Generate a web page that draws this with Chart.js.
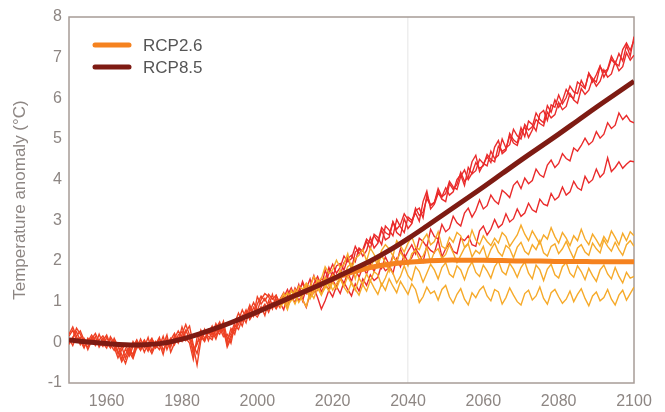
<!DOCTYPE html>
<html lang="en">
<head>
<meta charset="utf-8">
<title>Temperature anomaly RCP2.6 / RCP8.5</title>
<script src="https://cdn.jsdelivr.net/npm/chart.js@4.4.1/dist/chart.umd.min.js"></script>
<style>
    html, body { margin: 0; padding: 0; background: #ffffff; }
    #container { width: 665px; height: 412px; position: relative; }
</style>
</head>
<body>
<div id="container"><canvas id="tempChart" width="665" height="412"></canvas></div>
<script>
// x axis: years, runs are annual from 1950, scenario runs from 2006
const runStartYear = 1950;
const scenarioStartYear = 2006;
const xTickValues = [1960, 1980, 2000, 2020, 2040, 2060, 2080, 2100];
const yTickValues = [-1, 0, 1, 2, 3, 4, 5, 6, 7, 8];

// RCP8.5 single runs, 1950..2100 (one value per year)
const rcp85RunA = [
    0.15, 0.30, 0.05, 0.12, -0.10, 0.02, 0.18, 0.04, -0.08, 0.10,
    -0.05, 0.08, -0.12, -0.38, -0.18, -0.05, -0.28, 0.02, -0.15, 0.08,
    -0.12, 0.12, -0.22, 0.02, -0.10, 0.15, -0.18, 0.06, 0.22, 0.02,
    0.38, 0.10, -0.02, -0.42, 0.12, 0.18, 0.05, 0.32, 0.18, 0.46,
    0.28, 0.52, 0.08, 0.22, 0.48, 0.72, 0.52, 0.66, 0.92, 0.68,
    1.12, 0.94, 1.08, 0.88, 1.18, 0.86, 1.06, 1.22, 0.96, 1.28,
    1.14, 1.42, 1.02, 1.32, 1.56, 1.22, 1.48, 1.36, 1.78, 1.52,
    1.72, 1.58, 1.64, 1.96, 2.08, 1.80, 2.22, 2.30, 2.12, 2.26,
    2.58, 2.32, 2.44, 2.76, 2.52, 2.58, 2.96, 2.70, 2.62, 3.04,
    2.80, 2.92, 3.24, 3.30, 3.06, 3.62, 3.38, 3.44, 3.70, 3.52,
    3.46, 3.90, 3.76, 3.88, 4.18, 3.96, 4.06, 4.44, 4.60, 4.20,
    4.38, 4.56, 4.42, 4.80, 4.96, 4.64, 4.72, 5.14, 4.98, 4.90,
    5.28, 5.06, 5.44, 5.36, 5.20, 5.62, 5.70, 5.46, 5.84, 5.78,
    6.08, 5.86, 6.02, 6.30, 6.16, 6.12, 6.44, 6.26, 6.62, 6.40,
    6.58, 6.80, 6.52, 6.70, 6.96, 6.84, 7.10, 6.92, 7.30, 7.04,
    7.52
];
const rcp85RunB = [
    0.05, 0.10, 0.35, 0.20, 0.00, -0.12, 0.08, 0.22, 0.02, -0.10,
    0.12, -0.08, 0.04, -0.22, -0.48, -0.30, -0.12, -0.36, -0.05, -0.20,
    0.04, -0.15, 0.08, -0.05, 0.12, -0.20, 0.02, -0.08, 0.10, 0.28,
    0.12, 0.30, 0.08, -0.20, -0.05, 0.30, 0.10, 0.22, 0.40, 0.16,
    0.44, 0.34, -0.12, 0.10, 0.38, 0.54, 0.80, 0.60, 0.76, 0.98,
    0.78, 1.05, 1.20, 1.12, 0.92, 1.06, 0.84, 1.10, 1.30, 1.06,
    1.34, 1.18, 1.50, 1.26, 1.12, 1.44, 1.62, 1.38, 1.54, 1.84,
    1.60, 1.88, 1.94, 1.78, 2.06, 2.14, 1.98, 2.32, 2.24, 2.48,
    2.30, 2.66, 2.58, 2.40, 2.86, 2.76, 2.62, 3.02, 2.84, 2.70,
    3.08, 3.00, 3.18, 2.98, 3.46, 3.72, 3.28, 3.40, 3.66, 3.58,
    3.80, 3.62, 3.70, 4.00, 4.12, 3.86, 4.30, 4.14, 4.22, 4.50,
    4.40, 4.34, 4.70, 4.52, 4.60, 5.00, 4.78, 4.86, 5.24, 5.08,
    5.00, 5.36, 5.22, 5.30, 5.64, 5.48, 5.40, 5.82, 5.66, 5.96,
    5.78, 5.94, 6.22, 6.06, 6.00, 6.40, 6.32, 6.24, 6.62, 6.48,
    6.40, 6.78, 6.64, 6.72, 7.04, 6.86, 6.80, 7.20, 7.36, 7.18,
    7.42
];
const rcp85RunC = [
    0.20, 0.38, 0.14, -0.06, 0.10, -0.04, 0.12, -0.08, 0.06, 0.16,
    0.00, -0.14, 0.10, -0.10, -0.30, -0.52, -0.24, -0.40, -0.12, 0.00,
    -0.24, -0.04, 0.10, -0.14, -0.02, -0.30, 0.08, -0.12, 0.16, -0.02,
    0.20, 0.44, 0.18, -0.10, -0.56, 0.04, 0.26, 0.14, 0.06, 0.34,
    0.50, 0.22, 0.02, 0.34, 0.20, 0.58, 0.40, 0.74, 0.62, 0.86,
    0.70, 0.88, 0.66, 1.02, 0.82, 1.14, 0.98, 0.80, 1.16, 1.34,
    1.10, 1.28, 1.46, 1.20, 1.38, 1.64, 1.30, 1.58, 1.44, 1.70,
    1.92, 1.70, 1.84, 2.12, 1.98, 2.06, 2.36, 2.18, 2.28, 2.54,
    2.44, 2.62, 2.48, 2.82, 2.70, 2.64, 2.96, 2.78, 2.90, 3.16,
    3.02, 2.94, 3.30, 3.12, 3.20, 3.54, 3.36, 3.44, 3.78, 3.58,
    3.66, 3.96, 3.82, 3.76, 4.08, 4.24, 4.00, 4.16, 4.42, 4.28,
    4.34, 4.62, 4.50, 4.44, 4.82, 4.70, 4.76, 5.08, 4.90, 4.84,
    5.16, 5.30, 5.04, 5.22, 5.48, 5.38, 5.32, 5.66, 5.52, 5.60,
    5.90, 5.72, 5.80, 6.12, 5.96, 5.88, 6.24, 6.10, 6.20, 6.48,
    6.30, 6.42, 6.70, 6.52, 6.60, 6.90, 6.68, 6.78, 7.12, 6.94,
    7.06
];
const rcp85RunD = [
    -0.05, 0.12, 0.26, 0.04, -0.14, 0.10, -0.02, 0.14, -0.12, 0.04,
    0.18, -0.06, -0.20, -0.04, -0.42, -0.16, -0.34, -0.10, 0.06, -0.18,
    -0.04, -0.22, 0.06, -0.12, 0.08, -0.06, 0.18, -0.24, -0.02, 0.12,
    0.02, 0.26, 0.40, -0.06, -0.28, 0.14, 0.02, 0.26, 0.12, 0.30,
    0.20, 0.42, -0.06, 0.16, 0.30, 0.44, 0.66, 0.48, 0.84, 0.64,
    0.94, 1.14, 1.02, 1.18, 1.06, 1.16, 0.92, 1.04, 0.86, 1.12,
    0.98, 1.24, 1.06, 0.86, 1.20, 1.34, 1.10, 0.82, 1.02, 1.28,
    1.12, 1.38, 1.20, 1.48, 1.30, 1.14, 1.44, 1.26, 1.56, 1.40,
    1.66, 1.52, 1.60, 1.92, 1.76, 1.84, 2.14, 1.96, 2.30, 2.06,
    2.24, 2.40, 2.18, 2.56, 2.48, 2.34, 2.78, 2.60, 2.54, 2.90,
    2.72, 2.80, 3.10, 2.94, 2.86, 3.18, 3.30, 3.08, 3.24, 3.50,
    3.28, 3.36, 3.62, 3.48, 3.40, 3.74, 3.66, 3.56, 3.86, 3.96,
    3.78, 4.04, 3.90, 3.98, 4.26, 4.12, 4.06, 4.36, 4.48, 4.30,
    4.40, 4.64, 4.52, 4.46, 4.78, 4.70, 4.84, 5.02, 4.86, 4.94,
    5.18, 5.02, 5.12, 5.40, 5.26, 5.34, 5.64, 5.48, 5.58, 5.44,
    5.40
];
const rcp85RunE = [
    0.10, -0.08, 0.16, 0.28, 0.06, -0.18, 0.04, -0.06, 0.20, -0.02,
    -0.14, 0.14, -0.02, -0.28, -0.10, -0.40, -0.16, -0.30, 0.04, -0.10,
    0.06, -0.10, -0.28, -0.06, -0.18, 0.04, -0.08, 0.10, -0.06, 0.18,
    0.26, 0.04, 0.16, -0.30, 0.00, 0.10, 0.32, 0.04, 0.28, 0.08,
    0.36, 0.14, 0.20, -0.02, 0.42, 0.32, 0.58, 0.80, 0.56, 0.72,
    0.62, 0.80, 0.94, 0.74, 0.96, 0.82, 1.00, 1.16, 0.90, 1.08,
    1.26, 1.02, 1.18, 1.40, 1.16, 1.30, 1.52, 1.24, 1.42, 1.30,
    1.54, 1.36, 1.62, 1.44, 1.72, 1.50, 1.80, 1.60, 1.86, 1.68,
    1.94, 1.74, 2.02, 1.82, 2.10, 1.90, 1.70, 2.06, 1.86, 2.16,
    1.96, 2.08, 2.30, 2.16, 1.98, 2.38, 2.26, 2.20, 2.52, 2.10,
    2.30, 2.44, 2.24, 2.18, 2.56, 2.50, 2.62, 2.40, 2.36, 2.74,
    2.86, 2.64, 2.78, 3.02, 2.82, 2.90, 3.16, 2.96, 3.04, 3.28,
    3.10, 3.18, 3.42, 3.26, 3.20, 3.52, 3.40, 3.36, 3.66, 3.50,
    3.58, 3.82, 3.62, 3.70, 3.96, 3.80, 3.74, 4.08, 3.92, 4.00,
    4.26, 4.06, 4.16, 4.54, 4.20, 4.30, 4.44, 4.28, 4.38, 4.46,
    4.44
];

// RCP2.6 single runs, 2006..2100 (one value per year)
const rcp26RunA = [
    1.02, 1.20, 0.96, 1.28,
    1.10, 1.38, 1.30, 1.46, 1.34, 1.62, 1.50, 1.56, 1.86, 1.70,
    1.78, 2.02, 1.84, 1.92, 2.18, 1.80, 2.06, 2.14, 2.28, 2.00,
    2.32, 2.16, 1.98, 2.26, 2.40, 2.30, 2.12, 2.50, 2.38, 2.22,
    2.44, 2.60, 2.34, 2.28, 2.52, 2.66, 2.40, 2.48, 2.72, 2.36,
    2.30, 2.58, 2.46, 2.70, 2.62, 2.34, 2.44, 2.76, 2.52, 2.40,
    2.62, 2.48, 2.38, 2.56, 2.44, 2.70, 2.60, 2.36, 2.50, 2.64,
    2.88, 2.66, 2.50, 2.74, 2.58, 2.42, 2.64, 2.54, 2.82, 2.60,
    2.44, 2.70, 2.56, 2.38, 2.62, 2.50, 2.78, 2.54, 2.40, 2.66,
    2.52, 2.36, 2.60, 2.46, 2.74, 2.58, 2.40, 2.68, 2.50, 2.72,
    2.62
];
const rcp26RunB = [
    0.90, 1.08, 1.22, 1.04,
    1.30, 1.14, 1.22, 1.40, 1.08, 1.36, 1.52, 1.44, 1.60, 1.38,
    1.66, 1.54, 1.78, 1.62, 1.86, 1.94, 1.56, 1.90, 1.80, 1.96,
    1.84, 2.04, 1.92, 2.14, 1.96, 1.74, 2.10, 2.00, 2.22, 2.06,
    1.88, 2.18, 2.26, 2.04, 2.12, 2.34, 1.98, 2.22, 2.30, 2.06,
    2.16, 2.40, 2.20, 1.96, 2.14, 2.32, 2.42, 2.10, 2.26, 2.18,
    2.36, 2.04, 2.28, 2.44, 2.22, 2.12, 2.38, 2.30, 2.08, 2.34,
    2.46, 2.24, 2.16, 2.40, 2.28, 2.50, 2.20, 2.12, 2.36, 2.42,
    2.18, 2.30, 2.48, 2.26, 2.06, 2.32, 2.40, 2.22, 2.14, 2.44,
    2.30, 2.20, 2.52, 2.36, 2.24, 2.46, 2.28, 2.14, 2.40, 2.50,
    2.36
];
const rcp26RunC = [
    0.84, 1.00, 0.80, 1.12,
    0.94, 1.20, 1.04, 0.88, 1.24, 1.08, 1.34, 1.16, 1.42, 1.26,
    1.48, 1.32, 1.56, 1.38, 1.62, 1.44, 1.28, 1.58, 1.42, 1.68,
    1.50, 1.74, 1.66, 1.40, 1.58, 1.82, 1.70, 1.46, 1.62, 1.88,
    1.64, 1.52, 1.86, 1.74, 1.48, 1.70, 1.92, 1.78, 1.56, 1.84,
    1.96, 1.68, 1.60, 1.88, 1.78, 1.54, 1.82, 1.98, 1.72, 1.62,
    1.90, 1.76, 1.58, 1.86, 2.00, 1.74, 1.66, 1.94, 1.80, 1.60,
    1.84, 1.98, 1.70, 1.56, 1.90, 1.78, 1.52, 1.80, 1.92, 1.66,
    1.58, 1.86, 1.96, 1.70, 1.60, 1.88, 1.74, 1.54, 1.82, 1.64,
    1.50, 1.78, 1.90, 1.68, 1.56, 1.84, 1.62, 1.46, 1.72, 1.58,
    1.62
];
const rcp26RunD = [
    0.94, 1.10, 0.88, 1.04,
    1.20, 0.98, 1.14, 1.30, 1.08, 1.24, 1.40, 1.18, 1.34, 1.50,
    1.28, 1.44, 1.60, 1.36, 1.22, 1.48, 1.30, 1.16, 1.42, 1.26,
    1.52, 1.34, 1.18, 1.44, 1.28, 1.56, 1.38, 1.22, 1.50, 1.34,
    1.18, 1.44, 1.30, 0.98, 1.12, 1.36, 1.20, 1.26, 1.04, 1.30,
    1.40, 1.12, 0.96, 1.18, 1.32, 1.06, 0.92, 1.22, 1.10, 1.28,
    1.38, 1.14, 1.02, 1.30, 1.24, 0.94, 1.10, 1.34, 1.16, 1.00,
    0.92, 1.20, 1.28, 1.04, 1.14, 1.36, 1.08, 0.94, 1.22, 1.30,
    1.12, 0.96, 1.06, 1.26, 1.00, 1.18, 1.32, 1.08, 0.90, 1.14,
    1.24, 1.02, 1.10, 1.30, 1.06, 0.92, 1.16, 1.28, 1.04, 1.20,
    1.36
];

// multi-model means, every 5 years
const meanYears85 = [1950, 1955, 1960, 1965, 1970, 1975, 1980, 1985, 1990, 1995, 2000, 2005, 2010, 2015, 2020, 2025,
    2030, 2035, 2040, 2045, 2050, 2055, 2060, 2065, 2070, 2075, 2080, 2085, 2090, 2095, 2100];
const rcp85Mean = [0.06, 0.01, -0.03, -0.06, -0.06, -0.02, 0.08, 0.22, 0.38, 0.56, 0.75, 0.95, 1.15, 1.35, 1.56, 1.78,
    2.00, 2.26, 2.55, 2.86, 3.18, 3.50, 3.82, 4.15, 4.48, 4.80, 5.12, 5.45, 5.78, 6.10, 6.42];
const meanYears26 = [2005, 2010, 2015, 2020, 2025, 2030, 2035, 2040, 2045, 2050, 2055, 2060, 2065, 2070, 2075, 2080,
    2085, 2090, 2095, 2100];
const rcp26Mean = [0.95, 1.15, 1.35, 1.56, 1.72, 1.84, 1.92, 1.97, 2.00, 2.02, 2.02, 2.02, 2.01, 2.00, 2.00, 1.99,
    1.99, 1.98, 1.98, 1.98];

const axisGrey = '#8d8683';
const fontFamily = '"Liberation Sans", Arial, sans-serif';

const ChartView = {
    chart: null,

    toPoints(years, values) {
        return values.map((v, i) => ({ x: years[i], y: v }));
    },

    annualPoints(firstYear, values) {
        return values.map((v, i) => ({ x: firstYear + i, y: v }));
    },

    buildDatasets() {
        const thin = (values, firstYear, color, order) => ({
            data: this.annualPoints(firstYear, values),
            borderColor: color,
            borderWidth: 1.4,
            pointRadius: 0,
            tension: 0,
            order: order
        });

        // historical part of the runs is a slightly more orange red
        const redRuns = [rcp85RunA, rcp85RunB, rcp85RunC, rcp85RunD, rcp85RunE]
            .map(r => Object.assign(thin(r, runStartYear, '#ea2b2b', 3), {
                segment: {
                    borderColor: s => (s.p1.parsed.x <= scenarioStartYear ? '#ee4124' : '#ea2b2b')
                }
            }));
        const yellowRuns = [rcp26RunA, rcp26RunB, rcp26RunC, rcp26RunD]
            .map(r => thin(r, scenarioStartYear, '#f6aa2a', 2));

        return [
            {
                label: 'RCP2.6',
                data: this.toPoints(meanYears26, rcp26Mean),
                borderColor: '#f5821f',
                borderWidth: 5,
                pointRadius: 0,
                tension: 0.4,
                order: 1
            },
            {
                label: 'RCP8.5',
                data: this.toPoints(meanYears85, rcp85Mean),
                borderColor: '#7e1b13',
                borderWidth: 5,
                pointRadius: 0,
                tension: 0.4,
                order: 0
            },
            ...redRuns,
            ...yellowRuns
        ];
    },

    // frame round the plot area (all four sides)
    framePlugin: {
        id: 'frame',
        beforeDatasetsDraw(chart) {
            const { ctx, chartArea: a } = chart;
            ctx.save();
            ctx.strokeStyle = '#a79c97';
            ctx.lineWidth = 1.5;
            ctx.strokeRect(a.left, a.top, a.right - a.left, a.bottom - a.top);
            ctx.restore();
        }
    },

    // legend drawn inside the plot, top left
    legendPlugin: {
        id: 'insideLegend',
        afterDraw(chart) {
            const { ctx, chartArea: a } = chart;
            const items = chart.data.datasets.filter(d => d.label);
            ctx.save();
            ctx.font = '17px ' + fontFamily;
            ctx.textBaseline = 'middle';
            items.forEach((ds, i) => {
                const y = a.top + 28 + i * 22;
                ctx.strokeStyle = ds.borderColor;
                ctx.lineWidth = 5;
                ctx.lineCap = 'round';
                ctx.beginPath();
                ctx.moveTo(a.left + 26, y);
                ctx.lineTo(a.left + 60, y);
                ctx.stroke();
                ctx.fillStyle = '#555555';
                ctx.fillText(ds.label, a.left + 74, y + 1);
            });
            ctx.restore();
        }
    },

    render() {
        try {
            const ctx = document.getElementById('tempChart').getContext('2d');
            if (this.chart) {
                this.chart.destroy();
            }

            this.chart = new Chart(ctx, {
                type: 'line',
                data: { datasets: this.buildDatasets() },
                options: {
                    responsive: false,
                    animation: false,
                    layout: { padding: { top: 17, right: 31, left: 0, bottom: 0 } },
                    plugins: {
                        legend: { display: false },
                        tooltip: { enabled: false }
                    },
                    scales: {
                        x: {
                            type: 'linear',
                            min: 1950,
                            max: 2100,
                            afterBuildTicks: s => { s.ticks = xTickValues.map(v => ({ value: v })); },
                            afterFit: s => { s.height = 29; },
                            border: { display: false },
                            grid: {
                                drawTicks: false,
                                color: c => (c.tick && c.tick.value === 2040) ? '#eeeeee' : 'rgba(0,0,0,0)',
                                lineWidth: 1.5
                            },
                            ticks: {
                                padding: 9,
                                color: axisGrey,
                                maxRotation: 0,
                                autoSkip: false,
                                font: { family: fontFamily, size: 16 },
                                callback: v => String(v)
                            }
                        },
                        y: {
                            min: -1,
                            max: 8,
                            afterBuildTicks: s => { s.ticks = yTickValues.map(v => ({ value: v })); },
                            afterFit: s => { s.width = 69; },
                            border: { display: false },
                            grid: { display: false, drawTicks: false },
                            ticks: {
                                padding: 7,
                                color: axisGrey,
                                font: { family: fontFamily, size: 16 }
                            },
                            title: {
                                display: true,
                                text: 'Temperature anomaly (°C)',
                                color: axisGrey,
                                font: { family: fontFamily, size: 17 },
                                padding: { top: 10, bottom: 0 }
                            }
                        }
                    }
                },
                plugins: [this.framePlugin, this.legendPlugin]
            });
        } catch (error) {
            console.error('Error while drawing the chart:', error);
        }
    }
};

ChartView.render();
</script>
</body>
</html>
